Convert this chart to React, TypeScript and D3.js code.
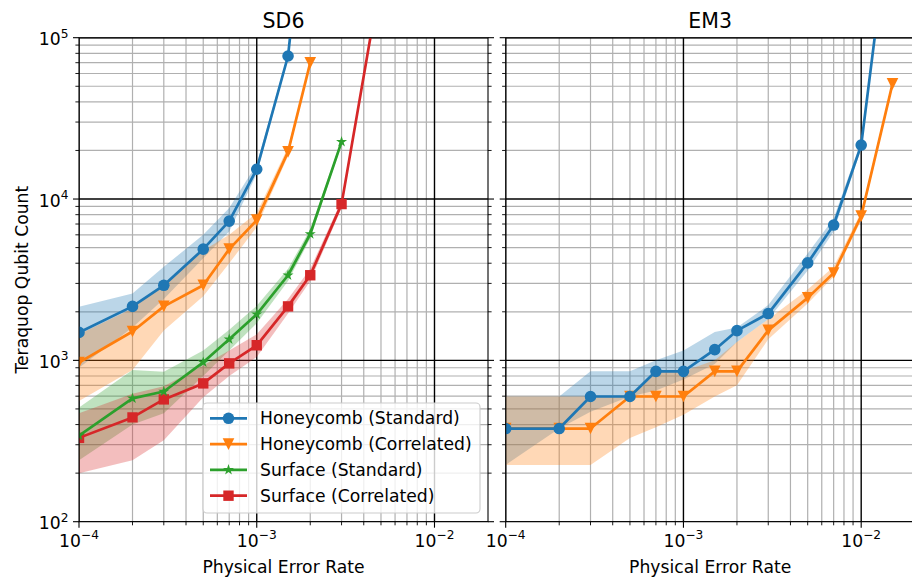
import { useEffect, useRef } from 'react';
import * as d3 from 'd3';

// ---- SD6 panel ----
const sd6HcStdRates = [1e-4, 2e-4, 3e-4, 5e-4, 7e-4, 1e-3, 1.5e-3, 2e-3];
const sd6HcStd = [1490, 2160, 2920, 4890, 7300, 15300, 77000, 1500000];
const sd6HcStdLo = [900, 1600, 2400, 4300, 6300, 14300, 74000, 1450000];
const sd6HcStdHi = [2150, 2600, 3800, 6000, 8800, 16500, 80000, 1550000];

const sd6HcCorRates = [1e-4, 2e-4, 3e-4, 5e-4, 7e-4, 1e-3, 1.5e-3, 2e-3];
const sd6HcCor = [970, 1510, 2160, 2920, 4890, 7400, 19600, 70000];
const sd6HcCorLo = [560, 870, 1530, 2500, 4000, 6700, 18500, 68000];
const sd6HcCorHi = [1450, 2100, 3000, 4800, 6000, 8200, 21000, 72000];

const sd6SfStdRates = [1e-4, 2e-4, 3e-4, 5e-4, 7e-4, 1e-3, 1.5e-3, 2e-3, 3e-3];
const sd6SfStd = [342, 581, 641, 972, 1350, 1930, 3370, 6070, 22600];
const sd6SfStdLo = [240, 400, 470, 800, 1150, 1700, 3100, 5700, 21800];
const sd6SfStdHi = [510, 870, 850, 1150, 1550, 2180, 3700, 6500, 23400];

const sd6SfCorRates = [1e-4, 2e-4, 3e-4, 5e-4, 7e-4, 1e-3, 1.5e-3, 2e-3, 3e-3, 5e-3];
const sd6SfCor = [331, 443, 573, 720, 958, 1240, 2160, 3370, 9300, 240000];
const sd6SfCorLo = [200, 240, 320, 590, 800, 1050, 1950, 3100, 8800, 230000];
const sd6SfCorHi = [470, 620, 690, 930, 1150, 1450, 2400, 3700, 9800, 250000];

// ---- EM3 panel ----
const em3Rates = [1e-4, 2e-4, 3e-4, 5e-4, 7e-4, 1e-3, 1.5e-3, 2e-3, 3e-3, 5e-3, 7e-3, 1e-2, 1.5e-2];
const em3HcStd = [378, 378, 597, 597, 855, 855, 1165, 1528, 1950, 4020, 6900, 21600, 760000];
const em3HcStdLo = [225, 378, 480, 597, 650, 760, 950, 1300, 1800, 3600, 6300, 20500, 720000];
const em3HcStdHi = [597, 597, 855, 855, 1000, 1150, 1500, 1600, 2200, 4600, 7600, 22800, 800000];

const em3HcCor = [378, 378, 378, 597, 597, 597, 855, 855, 1535, 2440, 3480, 7830, 51700];
const em3HcCorLo = [225, 225, 225, 330, 385, 460, 597, 700, 1350, 2250, 3300, 7400, 49500];
const em3HcCorHi = [597, 597, 597, 597, 855, 855, 1000, 1300, 1800, 2750, 3800, 8300, 54000];

const seriesLabels = ['Honeycomb (Standard)', 'Honeycomb (Correlated)', 'Surface (Standard)', 'Surface (Correlated)'];
const seriesColors = ['#1f77b4', '#ff7f0e', '#2ca02c', '#d62728'];
const seriesMarkers = ['circle', 'triangleDown', 'star', 'square'];
const panelTitles = ['SD6', 'EM3'];
const xTickExps = [-4, -3, -2];
const yTickExps = [2, 3, 4, 5];

const FONT = '"DejaVu Sans", Verdana, sans-serif';
const FS = 17.2;

function markerPath(kind: string, cx: number, cy: number) {
  const s = 11.6;
  if (kind === 'circle') {
    const r = s / 2;
    return `M${cx - r},${cy}a${r},${r} 0 1,0 ${2 * r},0a${r},${r} 0 1,0 ${-2 * r},0Z`;
  }
  if (kind === 'triangleDown') {
    const h = s / 2;
    return `M${cx - h},${cy - h}L${cx + h},${cy - h}L${cx},${cy + h}Z`;
  }
  if (kind === 'square') {
    const h = 5.2;
    return `M${cx - h},${cy - h}h${2 * h}v${2 * h}h${-2 * h}Z`;
  }
  // star
  const R = s / 2, r = R * 0.381966;
  let p = '';
  for (let i = 0; i < 10; i++) {
    const rad = i % 2 === 0 ? R : r;
    const a = -Math.PI / 2 + (i * Math.PI) / 5;
    p += (i === 0 ? 'M' : 'L') + (cx + rad * Math.cos(a)) + ',' + (cy + rad * Math.sin(a));
  }
  return p + 'Z';
}

export default function App() {
  const svgRef = useRef<SVGSVGElement>(null);

  useEffect(() => {
    document.body.style.margin = '0';
    const svg = d3.select(svgRef.current);
    svg.selectAll('*').remove();

    const top = 37.7, bottom = 521.7, axW = 409;
    const panelLefts = [79, 505.7];

    const panels = [
      [
        { x: sd6HcStdRates, y: sd6HcStd, lo: sd6HcStdLo, hi: sd6HcStdHi, s: 0 },
        { x: sd6HcCorRates, y: sd6HcCor, lo: sd6HcCorLo, hi: sd6HcCorHi, s: 1 },
        { x: sd6SfStdRates, y: sd6SfStd, lo: sd6SfStdLo, hi: sd6SfStdHi, s: 2 },
        { x: sd6SfCorRates, y: sd6SfCor, lo: sd6SfCorLo, hi: sd6SfCorHi, s: 3 },
      ],
      [
        { x: em3Rates, y: em3HcStd, lo: em3HcStdLo, hi: em3HcStdHi, s: 0 },
        { x: em3Rates, y: em3HcCor, lo: em3HcCorLo, hi: em3HcCorHi, s: 1 },
      ],
    ];

    const y = d3.scaleLog().domain([1e2, 1e5]).range([bottom, top]);
    const minorY: number[] = [];
    for (let e = 2; e < 5; e++) for (let m = 2; m < 10; m++) minorY.push(m * 10 ** e);
    const minorX: number[] = [];
    for (let e = -4; e < -1; e++) for (let m = 2; m < 10; m++) { const v = m * 10 ** e; if (v < 2e-2) minorX.push(v); }

    const defs = svg.append('defs');

    panels.forEach((series, pi) => {
      const left = panelLefts[pi];
      const right = left + axW;
      const x = d3.scaleLog().domain([1e-4, 2e-2]).range([left, right]);
      const g = svg.append('g');

      defs.append('clipPath').attr('id', `clip${pi}`)
        .append('rect').attr('x', left).attr('y', top).attr('width', axW).attr('height', bottom - top);

      // grid
      const grid = g.append('g').attr('clip-path', `url(#clip${pi})`);
      minorX.forEach(v => grid.append('line').attr('x1', x(v)).attr('x2', x(v)).attr('y1', top).attr('y2', bottom)
        .attr('stroke', '#b0b0b0').attr('stroke-width', 1.2));
      minorY.forEach(v => grid.append('line').attr('x1', left).attr('x2', right).attr('y1', y(v)).attr('y2', y(v))
        .attr('stroke', '#b0b0b0').attr('stroke-width', 1.2));
      xTickExps.forEach(e => grid.append('line').attr('x1', x(10 ** e)).attr('x2', x(10 ** e)).attr('y1', top).attr('y2', bottom)
        .attr('stroke', '#000').attr('stroke-width', 1.4));
      yTickExps.forEach(e => grid.append('line').attr('x1', left).attr('x2', right).attr('y1', y(10 ** e)).attr('y2', y(10 ** e))
        .attr('stroke', '#000').attr('stroke-width', 1.4));

      const plot = g.append('g').attr('clip-path', `url(#clip${pi})`);

      // confidence bands
      series.forEach(d => {
        const idx = d3.range(d.x.length);
        const area = d3.area<number>()
          .x(i => x(d.x[i]))
          .y0(i => y(d.lo[i]))
          .y1(i => y(d.hi[i]));
        plot.append('path').attr('d', area(idx)).attr('fill', seriesColors[d.s]).attr('opacity', 0.3);
      });

      // lines + markers, last series first so blue ends on top
      [...series].reverse().forEach(d => {
        const idx = d3.range(d.x.length);
        const line = d3.line<number>().x(i => x(d.x[i])).y(i => y(d.y[i]));
        plot.append('path').attr('d', line(idx)).attr('fill', 'none')
          .attr('stroke', seriesColors[d.s]).attr('stroke-width', 2.7).attr('stroke-linejoin', 'round');
        idx.forEach(i => {
          plot.append('path').attr('d', markerPath(seriesMarkers[d.s], x(d.x[i]), y(d.y[i])))
            .attr('fill', seriesColors[d.s]);
        });
      });

      // spines
      g.append('rect').attr('x', left).attr('y', top).attr('width', axW).attr('height', bottom - top)
        .attr('fill', 'none').attr('stroke', '#000').attr('stroke-width', 1.1);

      // x ticks
      minorX.forEach(v => g.append('line').attr('x1', x(v)).attr('x2', x(v)).attr('y1', bottom).attr('y2', bottom + 3.6)
        .attr('stroke', '#000').attr('stroke-width', 0.9));
      xTickExps.forEach(e => {
        const px = x(10 ** e);
        g.append('line').attr('x1', px).attr('x2', px).attr('y1', bottom).attr('y2', bottom + 6)
          .attr('stroke', '#000').attr('stroke-width', 1.1);
        const t = g.append('text').attr('x', px).attr('y', bottom + 25).attr('text-anchor', 'middle')
          .attr('font-family', FONT).attr('font-size', FS).attr('fill', '#000');
        t.append('tspan').text('10');
        t.append('tspan').attr('dy', -7.5).attr('font-size', 12.2).text(`\u2212${-e}`);
      });

      // y ticks on both sides
      [left, right].forEach((sx, side) => {
        const dir = side === 0 ? -1 : 1;
        minorY.forEach(v => g.append('line').attr('x1', sx).attr('x2', sx + dir * 3.6).attr('y1', y(v)).attr('y2', y(v))
          .attr('stroke', '#000').attr('stroke-width', 0.9));
        yTickExps.forEach(e => g.append('line').attr('x1', sx).attr('x2', sx + dir * 6).attr('y1', y(10 ** e)).attr('y2', y(10 ** e))
          .attr('stroke', '#000').attr('stroke-width', 1.1));
      });
      if (pi === 0) {
        yTickExps.forEach(e => {
          const t = g.append('text').attr('x', left - 10.5).attr('y', y(10 ** e) + 7.5).attr('text-anchor', 'end')
            .attr('font-family', FONT).attr('font-size', FS).attr('fill', '#000');
          t.append('tspan').text('10');
          t.append('tspan').attr('dy', -7.5).attr('font-size', 12.2).text(`${e}`);
        });
        g.append('text').attr('transform', `translate(27.5,${(top + bottom) / 2}) rotate(-90)`)
          .attr('text-anchor', 'middle').attr('font-family', FONT).attr('font-size', FS).attr('fill', '#000')
          .text('Teraquop Qubit Count');
      }

      // title and x label
      g.append('text').attr('x', left + axW / 2).attr('y', 28.3).attr('text-anchor', 'middle')
        .attr('font-family', FONT).attr('font-size', 20.5).attr('fill', '#000').text(panelTitles[pi]);
      g.append('text').attr('x', left + axW / 2).attr('y', 573).attr('text-anchor', 'middle')
        .attr('font-family', FONT).attr('font-size', FS).attr('fill', '#000').text('Physical Error Rate');

      // legend (SD6 only)
      if (pi === 0) {
        const lg = g.append('g');
        lg.append('rect').attr('x', 203).attr('y', 403).attr('width', 277).attr('height', 110).attr('rx', 4)
          .attr('fill', '#fff').attr('fill-opacity', 0.8).attr('stroke', '#cccccc').attr('stroke-width', 1.1);
        seriesLabels.forEach((lab, i) => {
          const ry = 418.3 + i * 25.8;
          lg.append('line').attr('x1', 210).attr('x2', 247).attr('y1', ry).attr('y2', ry)
            .attr('stroke', seriesColors[i]).attr('stroke-width', 2.7);
          lg.append('path').attr('d', markerPath(seriesMarkers[i], 228.5, ry)).attr('fill', seriesColors[i]);
          lg.append('text').attr('x', 260).attr('y', ry + 6).attr('font-family', FONT).attr('font-size', FS)
            .attr('fill', '#000').text(lab);
        });
      }
    });
  }, []);

  return (
    <div style={{ width: 912, height: 577, background: '#fff' }}>
      <svg ref={svgRef} width={912} height={577} style={{ display: 'block' }} />
    </div>
  );
}
